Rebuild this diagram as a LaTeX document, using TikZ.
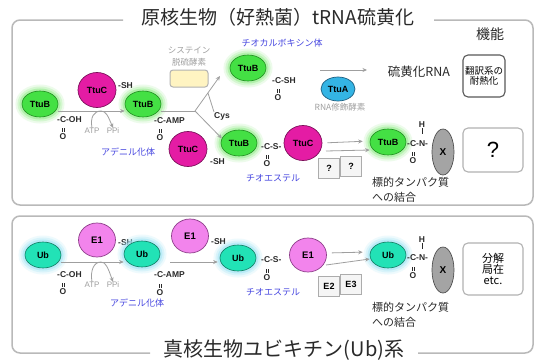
\documentclass[tikz,border=0pt]{standalone}
\usepackage{fontspec}
\setmainfont{Noto Sans CJK JP}
\newfontfamily\lat{Liberation Sans}
\usetikzlibrary{shapes.geometric,arrows.meta}
\newcommand\myfs[1]{\fontsize{#1}{#1}\selectfont}
\definecolor{gB}{HTML}{44E044}
\definecolor{gBd}{HTML}{1E8C1E}
\definecolor{gGlow}{HTML}{9CEE94}
\definecolor{mG}{HTML}{E41CA4}
\definecolor{mGd}{HTML}{7A0F58}
\definecolor{tA}{HTML}{34B4E4}
\definecolor{tAd}{HTML}{1E5E80}
\definecolor{uB}{HTML}{22E2B6}
\definecolor{uBd}{HTML}{0E7A60}
\definecolor{uGlow}{HTML}{A6E6F6}
\definecolor{eV}{HTML}{F284EC}
\definecolor{eVd}{HTML}{8E3E8A}
\definecolor{xG}{HTML}{A4A4A4}
\definecolor{xGd}{HTML}{505050}
\definecolor{bl}{HTML}{4646E0}
\definecolor{yl}{HTML}{FFF4C2}
\definecolor{tx}{HTML}{2A2A2A}
\begin{document}
\begin{tikzpicture}[x=1pt,y=-1pt,
  pB/.style={ellipse, draw=gBd, line width=.6pt, fill=gB, minimum width=36pt, minimum height=26pt, inner sep=0pt,
    font=\lat\bfseries\myfs{9}, preaction={draw=gGlow, line width=13pt, opacity=.18}, preaction={draw=gGlow, line width=9pt, opacity=.3}, preaction={draw=gGlow, line width=5pt, opacity=.6}},
  pU/.style={ellipse, draw=uBd, line width=.6pt, fill=uB, minimum width=36pt, minimum height=26pt, inner sep=0pt,
    font=\lat\bfseries\myfs{9}, preaction={draw=uGlow, line width=13pt, opacity=.18}, preaction={draw=uGlow, line width=9pt, opacity=.3}, preaction={draw=uGlow, line width=5pt, opacity=.6}},
  pC/.style={ellipse, draw=mGd, line width=.7pt, fill=mG, minimum width=38pt, minimum height=35pt, inner sep=0pt, font=\lat\bfseries\myfs{9}},
  pA/.style={ellipse, draw=tAd, line width=.7pt, fill=tA, minimum width=34pt, minimum height=24pt, inner sep=0pt, font=\lat\bfseries\myfs{9}},
  pE/.style={ellipse, draw=eVd, line width=.7pt, fill=eV, minimum width=37pt, minimum height=34pt, inner sep=0pt, font=\lat\bfseries\myfs{9.5}},
  pX/.style={ellipse, draw=xGd, line width=.7pt, fill=xG, minimum width=22pt, minimum height=46pt, inner sep=0pt, font=\lat\bfseries\myfs{10}},
  grp/.style={font=\lat\bfseries\myfs{8.5}, text=tx, inner sep=0pt},
  blu/.style={text=bl, font=\myfs{9}, inner sep=0pt},
  gtx/.style={text=gray!75, font=\myfs{8.5}, inner sep=0pt},
  gat/.style={text=gray!75, font=\lat\myfs{8}, inner sep=0pt},
  jtx/.style={text=tx, font=\myfs{11}, inner sep=0pt, align=left},
  arr/.style={draw=gray!75, line width=.8pt, -{Stealth[length=4.5pt,width=4pt]}},
  ln/.style={draw=gray!75, line width=.8pt},
  bond/.style={draw=tx, line width=.55pt},
  qbox/.style={draw=gray!65, line width=.9pt, fill=gray!8, minimum width=21pt, minimum height=20pt, inner sep=0pt, font=\lat\bfseries\myfs{9}},
  fbox/.style={draw=gray!70!black, line width=1.1pt, rounded corners=5pt, inner sep=0pt, align=center},
  panel/.style={draw=gray!55, line width=1.5pt, rounded corners=8pt},
  ttl/.style={text=tx, font=\myfs{19}, inner sep=0pt}
]
\useasboundingbox (0,0) rectangle (539,362);
\fill[white] (0,0) rectangle (539,362);

% ---------- panels ----------
\node[ttl] (t1) at (278,17) {原核生物（好熱菌）tRNA硫黄化};
\node[ttl, font=\myfs{20}] (t2) at (284,350) {真核生物ユビキチン(Ub)系};
\draw[panel] (123,20) -- (12,20) -- (12,205) -- (533,205) -- (533,20) -- (434,20);
\draw[panel] (150,353) -- (12,353) -- (12,216) -- (533,216) -- (533,353) -- (418,353);

% ---------- top panel ----------
\node[pB] (b1) at (40,104) {TtuB};
\node[pC] (c1) at (97,90) {TtuC};
\node[grp, anchor=west] (sh1) at (118,86) {-SH};
\node[pB] (b2) at (143,104) {TtuB};
\node[grp, anchor=west] (g1) at (57,120) {-C-OH};
\node[grp] (o1) at (63,137) {O};
\draw[bond] ([xshift=-1.2pt,yshift=2.2pt]o1.north) -- ++(0,-4) ([xshift=1.2pt,yshift=2.2pt]o1.north) -- ++(0,-4);
\node[gat] (atp1) at (92,131) {ATP};
\node[gat] (ppi1) at (113,131) {PPi};
\coordinate (m1) at (101,111);
\draw[arr] ([yshift=-7pt]b1.east) -- ([yshift=-7pt]b2.west);
\draw[ln] (atp1.north) .. controls (90,117) and (94,111) .. (m1);
\draw[arr] (m1) .. controls (106,111) and (108,116) .. (ppi1.north);
\node[grp, anchor=west] (g2) at (154,121) {-C-AMP};
\node[grp] (o2) at (160,138) {O};
\draw[bond] ([xshift=-1.2pt,yshift=2.2pt]o2.north) -- ++(0,-4) ([xshift=1.2pt,yshift=2.2pt]o2.north) -- ++(0,-4);
\node[blu] (ad1) at (128,152) {アデニル化体};

\node[draw=gray!60, line width=1pt, fill=yl, rounded corners=3pt, minimum width=38pt, minimum height=17pt, inner sep=0pt] (cys) at (189,78.5) {};
\node[gtx] (cysa) at (189,50) {システイン};
\node[gtx] (cysb) at (189,62) {脱硫酵素};
\node[pC] (c2) at (188,149) {TtuC};
\node[grp, anchor=west] (sh2) at (210,162) {-SH};
\node[pB] (b3) at (239,143) {TtuB};
\coordinate (br) at (195,111);
\coordinate (up) at (220,76);
\coordinate (cj) at (208,93);
\draw[ln] ([yshift=-7pt]b2.east) -- (br);
\draw[arr] (br) -- (up);
\draw[arr] (br) -- (b3.165);
\node[grp, anchor=west] (cysl) at (214,116) {Cys};
\draw[ln] (cj) -- (cysl.north west);

\node[pB] (b4) at (248,68) {TtuB};
\node[grp, anchor=west] (g4) at (272,81) {-C-SH};
\node[grp] (o4) at (278,98) {O};
\draw[bond] ([xshift=-1.2pt,yshift=2.2pt]o4.north) -- ++(0,-4) ([xshift=1.2pt,yshift=2.2pt]o4.north) -- ++(0,-4);
\node[blu] (tc) at (282,43) {チオカルボキシン体};
\node[pA] (ta) at (338,89) {TtuA};
\node[gtx] (rme) at (340,107) {RNA修飾酵素};
\node[jtx, font=\myfs{12.5}] (srna) at (419,72) {硫黄化RNA};
\coordinate (a4s) at (320,70);
\coordinate (a4e) at (367,70);
\draw[arr] (a4s) -- (a4e);
\node[jtx, font=\myfs{14}] (kino) at (490,34) {機能};
\node[fbox, minimum width=42pt, minimum height=42pt, font=\myfs{9.5}] (fb1) at (484,76) {翻訳系の\\耐熱化};

\node[grp, anchor=west] (g3) at (261,147) {-C-S-};
\node[grp] (o3) at (267,164) {O};
\draw[bond] ([xshift=-1.2pt,yshift=2.2pt]o3.north) -- ++(0,-4) ([xshift=1.2pt,yshift=2.2pt]o3.north) -- ++(0,-4);
\node[pC] (c3) at (303,143) {TtuC};
\node[blu] (te1) at (273,178) {チオエステル};

\node[qbox] (q1) at (329,168) {?};
\node[qbox] (q2) at (351,166) {?};
\node[pB] (b5) at (388,142) {TtuB};
\draw[arr, shorten <=5pt, shorten >=7pt] (c3.east) -- ([yshift=1pt]b5.west);
\coordinate (d1s) at (326,151);
\draw[arr] (d1s) -- ([yshift=-8pt]b5.west);
\node[grp, anchor=west] (g5) at (407,144) {-C-N-};
\node[grp] (h5) at (422,125) {H};
\draw[bond] (h5.south) -- ++(0,6);
\node[grp] (o5) at (413,161) {O};
\draw[bond] ([xshift=-1.2pt,yshift=2.2pt]o5.north) -- ++(0,-4) ([xshift=1.2pt,yshift=2.2pt]o5.north) -- ++(0,-4);
\node[pX] (x1) at (443,152) {X};
\node[fbox, draw=gray!60, minimum width=60pt, minimum height=44pt, font=\lat\myfs{22}] (qb) at (493,150) {?};
\node[jtx, anchor=west] (tg1) at (372,182) {標的タンパク質};
\node[jtx, anchor=west] (tg2) at (372,197) {への結合};

% ---------- bottom panel ----------
\node[pU] (u1) at (43,255) {Ub};
\node[pE] (e1) at (97,240) {E1};
\node[grp, anchor=west] (sh3) at (118,243) {-SH};
\node[pU] (u2) at (142,254) {Ub};
\node[grp, anchor=west] (g6) at (57,275) {-C-OH};
\node[grp] (o6) at (63,292) {O};
\draw[bond] ([xshift=-1.2pt,yshift=2.2pt]o6.north) -- ++(0,-4) ([xshift=1.2pt,yshift=2.2pt]o6.north) -- ++(0,-4);
\node[gat] (atp2) at (92,285) {ATP};
\node[gat] (ppi2) at (113,285) {PPi};
\coordinate (m2) at (101,262);
\draw[arr] ([yshift=-7pt]u1.east) -- ([yshift=-8pt]u2.west);
\draw[ln] (atp2.north) .. controls (90,270) and (94,262) .. (m2);
\draw[arr] (m2) .. controls (106,262) and (108,268) .. (ppi2.north);
\node[grp, anchor=west] (g7) at (154,275) {-C-AMP};
\node[grp] (o7) at (160,293) {O};
\draw[bond] ([xshift=-1.2pt,yshift=2.2pt]o7.north) -- ++(0,-4) ([xshift=1.2pt,yshift=2.2pt]o7.north) -- ++(0,-4);
\node[blu] (ad2) at (137,303) {アデニル化体};

\node[pE] (e2) at (190,236) {E1};
\node[grp, anchor=west] (sh4) at (211,242) {-SH};
\node[pU] (u3) at (238,258) {Ub};
\draw[arr, shorten <=10pt, shorten >=2pt] ([yshift=-8pt]u2.east) -- ([yshift=-4pt]u3.west);
\node[grp, anchor=west] (g8) at (261,260) {-C-S-};
\node[grp] (o8) at (267,278) {O};
\draw[bond] ([xshift=-1.2pt,yshift=2.2pt]o8.north) -- ++(0,-4) ([xshift=1.2pt,yshift=2.2pt]o8.north) -- ++(0,-4);
\node[pE] (e3) at (308,255) {E1};
\node[blu] (te2) at (273,292) {チオエステル};

\node[qbox] (q3) at (329,286) {E2};
\node[qbox] (q4) at (351,284) {E3};
\node[pU] (u4) at (388,255) {Ub};
\draw[arr, shorten <=5pt, shorten >=7pt] ([yshift=2pt]e3.east) -- ([yshift=3pt]u4.west);
\coordinate (d2s) at (326,265);
\draw[arr] (d2s) -- ([yshift=-4pt]u4.west);
\node[grp, anchor=west] (g9) at (407,258) {-C-N-};
\node[grp] (h9) at (422,240) {H};
\draw[bond] (h9.south) -- ++(0,6);
\node[grp] (o9) at (413,276) {O};
\draw[bond] ([xshift=-1.2pt,yshift=2.2pt]o9.north) -- ++(0,-4) ([xshift=1.2pt,yshift=2.2pt]o9.north) -- ++(0,-4);
\node[pX] (x2) at (443,270) {X};
\node[fbox, draw=gray!60, minimum width=60pt, minimum height=52pt, font=\myfs{11}] (fb2) at (493,269) {分解\\局在\\etc.};
\node[jtx, anchor=west] (tg3) at (372,307) {標的タンパク質};
\node[jtx, anchor=west] (tg4) at (372,322) {への結合};
\end{tikzpicture}
\end{document}
